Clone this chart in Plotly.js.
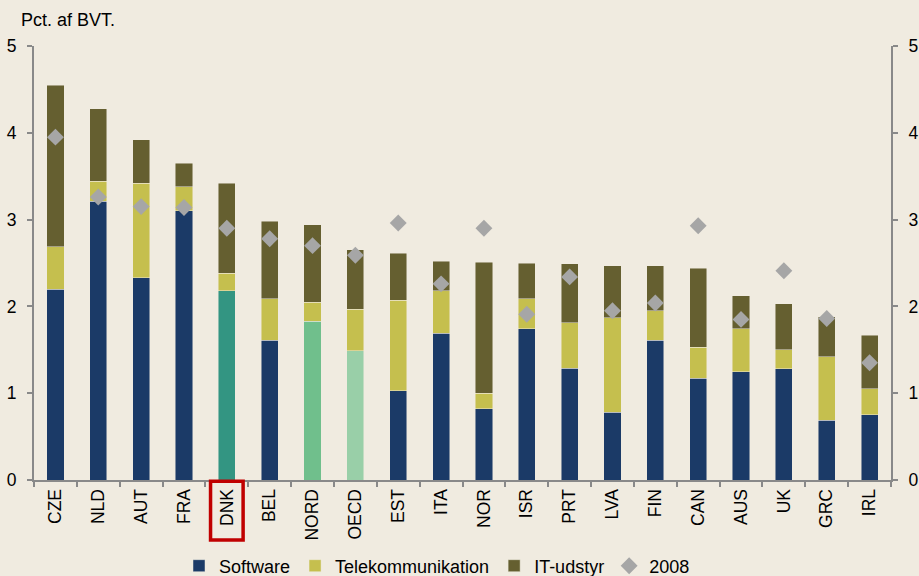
<!DOCTYPE html>
<html>
<head>
<meta charset="utf-8">
<script src="https://cdn.plot.ly/plotly-3.0.1.min.js"></script>
<style>html,body{margin:0;padding:0;background:#F0EBE0;}#chart{width:919px;height:576px;}</style>
</head>
<body>
<div id="chart"></div>
<script>
const categories = ["CZE","NLD","AUT","FRA","DNK","BEL","NORD","OECD","EST","ITA","NOR","ISR","PRT","LVA","FIN","CAN","AUS","UK","GRC","IRL"];
const software = [2.20,3.21,2.33,3.10,2.18,1.61,1.83,1.49,1.03,1.69,0.82,1.74,1.29,0.78,1.61,1.17,1.25,1.28,0.69,0.75];
const telekom = [0.49,0.23,1.09,0.28,0.20,0.48,0.22,0.48,1.04,0.49,0.18,0.35,0.52,1.09,0.34,0.36,0.49,0.22,0.73,0.30];
const itUdstyr = [1.86,0.84,0.50,0.27,1.04,0.89,0.89,0.68,0.54,0.34,1.51,0.41,0.68,0.60,0.52,0.91,0.38,0.53,0.46,0.62];
const y2008 = [3.95,3.26,3.15,3.14,2.90,2.78,2.70,2.59,2.96,2.26,2.90,1.91,2.34,1.95,2.04,2.93,1.85,2.41,1.86,1.35];
const seriesNames = ["Software","Telekommunikation","IT-udstyr","2008"];

const highlight = {DNK:"#339582", NORD:"#70BF8C", OECD:"#99CFA8"};
const softColors = categories.map(c => highlight[c] || "#1B3A67");
const font = {family:"Liberation Sans, Arial, sans-serif", size:18, color:"#000"};
const tickFont = {family:"Liberation Sans, Arial, sans-serif", size:17.5, color:"#000"};
const barLine = {color:"rgba(240,235,224,0.6)", width:0.8};

const traces = [
  {type:"bar", name:seriesNames[0], x:categories, y:software, marker:{color:softColors, line:barLine}},
  {type:"bar", name:seriesNames[1], x:categories, y:telekom, marker:{color:"#C5BF4E", line:barLine}},
  {type:"bar", name:seriesNames[2], x:categories, y:itUdstyr, marker:{color:"#655F30", line:barLine}},
  {type:"scatter", mode:"markers", name:seriesNames[3], x:categories, y:y2008, yaxis:"y2",
   marker:{symbol:"diamond", size:13, color:"#A6A6A6"}}
];

const dnkIdx = categories.indexOf("DNK");
const axisCommon = {ticks:"outside", ticklen:5, tickcolor:"#898989", tickwidth:2,
  showline:true, linecolor:"#898989", linewidth:2, showgrid:false, automargin:false};

const layout = {
  width:919, height:576,
  paper_bgcolor:"#F0EBE0", plot_bgcolor:"#F0EBE0",
  font:font,
  margin:{l:34, r:28, t:46, b:96},
  barmode:"stack", bargap:0.6,
  showlegend:true,
  legend:{orientation:"h", xref:"container", yref:"container", x:437/919, xanchor:"center",
          y:1-566/576, yanchor:"middle", traceorder:"normal",
          font:font, itemwidth:30, tracegroupgap:0, bgcolor:"rgba(0,0,0,0)"},
  title:{text:"Pct. af BVT.", xref:"container", yref:"container", x:21/919, xanchor:"left",
         y:1-20/576, yanchor:"middle", font:font},
  xaxis:Object.assign({type:"category", range:[-0.5, categories.length-0.5], tickangle:-90,
         tickson:"boundaries", tickfont:tickFont}, axisCommon),
  yaxis:Object.assign({range:[0,5], dtick:1, zeroline:false, tickfont:tickFont, ticklabelstandoff:7}, axisCommon),
  yaxis2:Object.assign({range:[0,5], dtick:1, overlaying:"y", side:"right", zeroline:false,
         tickfont:tickFont, ticklabelstandoff:7}, axisCommon),
  shapes:[{type:"rect", xref:"x", yref:"paper", x0:dnkIdx-0.38, x1:dnkIdx+0.38, y0:-0.003, y1:-0.138,
           line:{color:"#C00000", width:3.5}, fillcolor:"rgba(0,0,0,0)"}]
};

Plotly.newPlot("chart", traces, layout, {displayModeBar:false, staticPlot:true});
</script>
</body>
</html>
